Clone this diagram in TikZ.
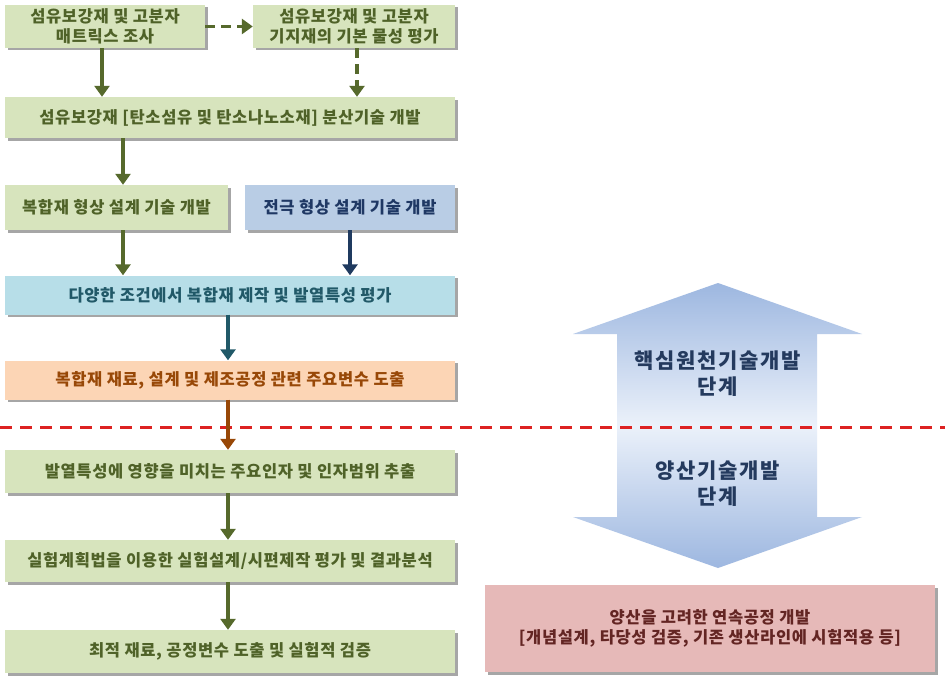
\documentclass[tikz,border=0pt]{standalone}
\usepackage{fontspec}
\newfontfamily\kr{Noto Sans CJK KR}[LetterSpace=4]
\newfontfamily\krs{Noto Sans CJK KR}[LetterSpace=8]
\usetikzlibrary{arrows.meta,shadows,calc}
\definecolor{gfill}{HTML}{D7E4BD}
\definecolor{gtext}{HTML}{4F6228}
\definecolor{garrow}{HTML}{56692C}
\definecolor{bfill}{HTML}{B9CDE5}
\definecolor{btext}{HTML}{1F3864}
\definecolor{barrow}{HTML}{1F3A5F}
\definecolor{cfill}{HTML}{B7DEE8}
\definecolor{ctext}{HTML}{215968}
\definecolor{carrow}{HTML}{215968}
\definecolor{ofill}{HTML}{FCD5B5}
\definecolor{otext}{HTML}{984807}
\definecolor{oarrow}{HTML}{984807}
\definecolor{pfill}{HTML}{E6B9B8}
\definecolor{ptext}{HTML}{632523}
\definecolor{arrtext}{HTML}{243A5E}
\definecolor{ablue}{HTML}{9DB7E0}
\definecolor{alight}{HTML}{EBF1FA}
\definecolor{ared}{HTML}{DD2222}
\begin{document}
\begin{tikzpicture}[x=1pt,y=-1pt,
 box/.style={rectangle, inner sep=0pt, font=\kr\bfseries\fontsize{16.5}{20}\selectfont, align=center,
   drop shadow={shadow xshift=2.5pt, shadow yshift=-2.5pt, fill=black, opacity=0.35}},
 gbox/.style={box, fill=gfill, text=gtext},
 bbox/.style={box, fill=bfill, text=btext},
 cbox/.style={box, fill=cfill, text=ctext},
 obox/.style={box, fill=ofill, text=otext},
 pbox/.style={box, fill=pfill, text=ptext},
 arr/.style={line width=3.5pt, -{Triangle[length=11pt,width=15pt]}},
 dasharr/.style={arr, dash pattern=on 10pt off 6pt},
 stage/.style={font=\krs\bfseries\fontsize{21}{26}\selectfont, text=arrtext, align=center},
]
\useasboundingbox (0,0) rectangle (945,685);
\fill[white] (0,0) rectangle (945,685);

% big double arrow
\shade[top color=ablue, bottom color=ablue, middle color=alight]
  (718,283) -- (862,334) -- (817,334) -- (817,517) -- (862,517) -- (718,568)
  -- (573,517) -- (617,517) -- (617,334) -- (573,334) -- cycle;
\node[stage] (up) at (718,374) {핵심원천기술개발\\단계};
\node[stage] (down) at (718,484) {양산기술개발\\단계};

% red divider
\draw[ared, line width=3pt, dash pattern=on 12pt off 8pt] (0,427) -- (945,427);

% boxes
\node[gbox, minimum width=200pt, minimum height=43pt] (A) at (105,26.5) {섬유보강재 및 고분자\\매트릭스 조사};
\node[gbox, minimum width=202pt, minimum height=43pt] (B) at (354,26.5) {섬유보강재 및 고분자\\기지재의 기본 물성 평가};
\node[gbox, minimum width=450pt, minimum height=41pt] (C) at (230,117.5) {섬유보강재 [탄소섬유 및 탄소나노소재] 분산기술 개발};
\node[gbox, minimum width=223pt, minimum height=45pt] (D) at (116.5,207.5) {복합재 형상 설계 기술 개발};
\node[bbox, minimum width=210pt, minimum height=45pt] (E) at (350,207.5) {전극 형상 설계 기술 개발};
\node[cbox, minimum width=450pt, minimum height=39pt] (F) at (230,295) {다양한 조건에서 복합재 제작 및 발열특성 평가};
\node[obox, minimum width=450pt, minimum height=39pt] (G) at (230,380) {복합재 재료, 설계 및 제조공정 관련 주요변수 도출};
\node[gbox, minimum width=450pt, minimum height=43pt] (H) at (230,471.5) {발열특성에 영향을 미치는 주요인자 및 인자범위 추출};
\node[gbox, minimum width=450pt, minimum height=42pt] (I) at (230,561) {실험계획법을 이용한 실험설계/시편제작 평가 및 결과분석};
\node[gbox, minimum width=450pt, minimum height=43pt] (J) at (230,651.5) {최적 재료, 공정변수 도출 및 실험적 검증};
\node[pbox, minimum width=450pt, minimum height=87pt] (K) at (710,628.5) {양산을 고려한 연속공정 개발\\{}[개념설계, 타당성 검증, 기존 생산라인에 시험적용 등]};

% connector reference points
\coordinate (ax) at ([xshift=-3pt]A.south);
\coordinate (bx) at ([xshift=3pt]B.south);
\coordinate (dx) at ([xshift=6.5pt]D.north);
\coordinate (mx) at ([xshift=-2pt]F.south);

% connectors
\draw[arr, garrow] (ax) -- (ax |- C.north);
\draw[dasharr, garrow] (A.east) -- (B.west);
\draw[dasharr, garrow] (bx) -- (bx |- C.north);
\draw[arr, garrow] (dx |- C.south) -- (dx);
\draw[arr, garrow] (dx |- D.south) -- (dx |- F.north);
\draw[arr, barrow] (E.south) -- (E.south |- F.north);
\draw[arr, carrow] (mx) -- (mx |- G.north);
\draw[arr, oarrow] (mx |- G.south) -- (mx |- H.north);
\draw[arr, garrow] (mx |- H.south) -- (mx |- I.north);
\draw[arr, garrow] (mx |- I.south) -- (mx |- J.north);
\end{tikzpicture}
\end{document}
